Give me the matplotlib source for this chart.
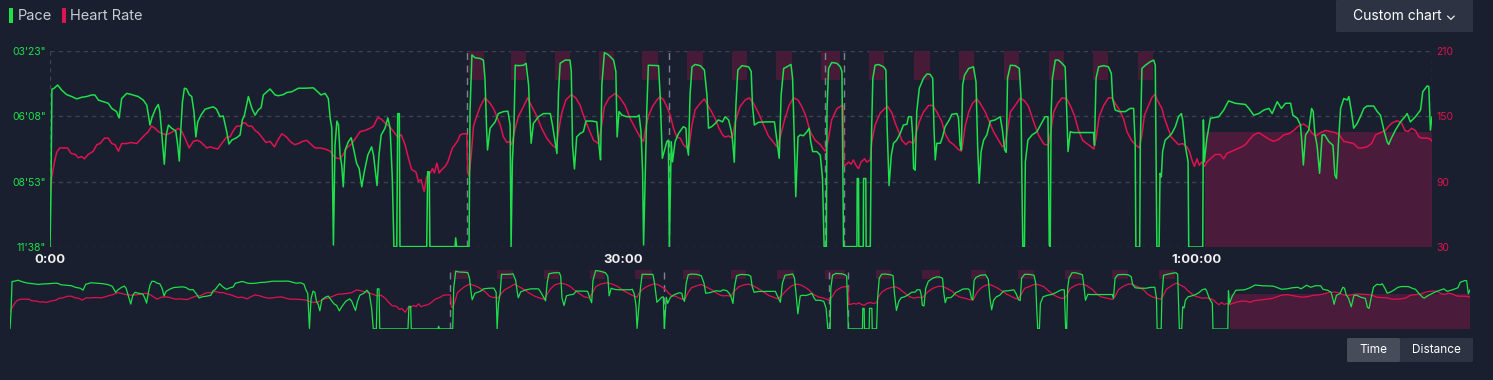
import matplotlib
matplotlib.use("Agg")
import matplotlib.pyplot as plt
from matplotlib.patches import FancyBboxPatch, Rectangle

# ---- data (time in seconds) ----
pace_t = [0, 3, 6, 13, 24, 37, 52, 68, 84, 99, 115, 131, 141, 152, 167, 183, 194, 209, 217, 225, 241, 256, 277, 293,
          304, 314, 321, 332, 340, 345, 353, 359, 365, 372, 382, 395, 401, 406, 411, 416, 422, 429, 437, 445, 452, 458,
          464, 474, 487, 503, 513, 523, 534, 544, 555, 562, 571, 586, 597, 604, 610,
          623, 634, 644, 654, 663, 670, 681, 691, 707, 717, 733, 743, 759, 780, 801, 827, 838, 851, 864, 874, 880, 885,
          890, 895, 901, 906, 911, 916, 921, 927, 937, 946, 953, 963, 971, 979, 987, 998, 1010, 1016, 1023, 1027, 1033,
          1040, 1052, 1061, 1068, 1075, 1080, 1089, 1092, 1097, 1099, 1183, 1186, 1191, 1193,
          1272, 1274, 1277, 1316, 1319, 1325, 1335, 1351, 1361, 1366, 1371, 1374, 1382, 1398, 1408, 1424, 1438, 1445,
          1448, 1452, 1457, 1461, 1471, 1487, 1495, 1503, 1508, 1511, 1518, 1534, 1550, 1571, 1578, 1586, 1592, 1597,
          1602, 1618, 1633, 1637, 1641, 1647, 1654, 1665, 1675, 1683, 1702, 1717, 1725, 1729, 1733, 1741, 1754, 1770,
          1777, 1781, 1787, 1796, 1811, 1827, 1843, 1850, 1856, 1861, 1864,
          1874, 1879, 1911, 1916, 1923, 1937, 1942, 1945, 1951, 1955, 1963, 1974, 1989, 1997, 2000, 2005, 2010, 2016,
          2026, 2042, 2055, 2063, 2068, 2078, 2089, 2099, 2112, 2120, 2131, 2139, 2143, 2149, 2154, 2160, 2173, 2194,
          2202, 2206, 2212, 2225, 2251, 2275, 2283, 2290, 2296, 2304, 2314, 2327, 2332, 2337, 2342, 2349, 2356, 2366,
          2377, 2384, 2389, 2395, 2408, 2419, 2426, 2431, 2438, 2440, 2445, 2455, 2471, 2482, 2487, 2492,
          2534, 2535, 2539, 2540, 2554, 2555, 2562, 2563, 2576, 2579, 2584, 2591, 2602, 2618, 2625, 2629, 2635, 2642,
          2649, 2659, 2670, 2680, 2691, 2696, 2705, 2709, 2712, 2717, 2722, 2730, 2743, 2754, 2764, 2772, 2776, 2780,
          2785, 2796, 2803, 2811, 2824, 2832, 2848, 2853, 2858, 2862, 2866, 2872, 2885, 2900, 2908, 2913, 2918, 2924,
          2932, 2942, 2953, 2968, 2984, 2991, 2998, 3003, 3007, 3016, 3031, 3044, 3049, 3052, 3055, 3060, 3063, 3071,
          3084, 3099, 3125,
          3134, 3138, 3141, 3144, 3148, 3157, 3167, 3178, 3188, 3193, 3197, 3204, 3214, 3230, 3262, 3277, 3280, 3285,
          3293, 3309, 3324, 3333, 3337, 3345, 3358, 3377, 3392, 3403, 3408, 3410, 3422, 3424, 3429, 3440, 3455, 3466,
          3471, 3476, 3483, 3486, 3490, 3494, 3502, 3513, 3523, 3534, 3544, 3553, 3557, 3565, 3574, 3576, 3620, 3622,
          3625, 3633, 3644, 3670, 3686, 3701, 3722, 3754,
          3765, 3780, 3796, 3812, 3828, 3838, 3854, 3867, 3880, 3896, 3903, 3917, 3927, 3932, 3936, 3943, 3953, 3962,
          3967, 3972, 3979, 3987, 3995, 4003, 4016, 4029, 4035, 4040, 4047, 4053, 4063, 4074, 4079, 4087, 4094, 4105,
          4115, 4126, 4136, 4157, 4168, 4178, 4189, 4199, 4204, 4212, 4225, 4241, 4255, 4262, 4272, 4288, 4304, 4311,
          4325, 4330, 4335, 4340]
pace_v = [698, 560, 300, 297, 289, 302, 313, 318, 324, 320, 318, 314, 314, 327, 331, 335, 348, 356, 372, 323, 310, 313,
          318, 327, 340, 390, 369, 348, 338, 356, 432, 489, 415, 390, 398, 405, 441, 481, 398, 331, 297, 299, 313, 318,
          356, 420, 382, 365, 350, 346, 344, 350, 369, 367, 407, 438, 428, 422, 415, 377, 367,
          318, 348, 365, 352, 346, 314, 306, 299, 314, 316, 313, 308, 306, 297, 297, 296, 304, 314, 310, 323, 373, 398,
          693, 441, 380, 390, 466, 491, 546, 453, 432, 422, 449, 487, 500, 546, 508, 466, 445, 466, 516, 543, 466,
          415, 398, 372, 398, 525, 697, 697, 361, 361, 697, 697, 508, 508, 697,
          697, 675, 697, 697, 356, 213, 220, 222, 226, 272, 398, 453, 398, 382, 361, 356, 355, 390,
          697, 483, 398, 239, 240, 239, 234, 289, 390, 436, 386, 369, 361, 361, 390, 432, 462, 306,
          234, 226, 226, 255, 441, 501, 420, 411, 407, 380, 380, 382, 449, 478, 289, 207, 213, 226,
          255, 420, 356, 365, 369, 369, 369, 365, 407, 508, 693,
          356, 239, 240, 314, 474, 432, 428, 697, 432, 483, 432, 411, 394, 398, 441, 466, 314, 243,
          237, 240, 251, 314, 398, 394, 386, 377, 382, 369, 377, 403, 424, 484, 340, 251, 240, 243,
          255, 340, 390, 383, 382, 382, 432, 474, 314, 247, 243, 237, 272, 415, 571, 420, 415, 417,
          407, 398, 432, 457, 457, 466, 525, 697, 697, 356, 247, 232, 234, 243, 255, 697,
          697, 525, 525, 697, 697, 525, 525, 697, 697, 441, 272, 239, 237, 243, 251, 398, 543, 466,
          436, 428, 411, 390, 388, 369, 369, 415, 500, 504, 356, 297, 272, 261, 262, 272, 398, 478,
          436, 436, 420, 394, 377, 363, 361, 373, 441, 453, 289, 264, 247, 243, 281, 441, 537, 457,
          428, 415, 380, 377, 369, 403, 453, 459, 272, 239, 240, 247, 314, 525, 698, 698, 483, 428,
          415, 407, 369,
          369, 693, 698, 356, 272, 226, 226, 234, 243, 356, 457, 407, 409, 409, 409, 409, 441, 272,
          243, 240, 243, 260, 323, 352, 356, 356, 348, 348, 441, 698, 698, 441, 247, 239, 230, 226,
          239, 698, 698, 512, 521, 457, 428, 420, 411, 394, 369, 361, 377, 441, 483, 698, 698, 377,
          483, 424, 373, 369, 352, 329, 335, 338,
          348, 365, 361, 352, 348, 361, 331, 348, 335, 335, 365, 373, 390, 441, 491, 415, 403, 348,
          356, 411, 441, 512, 415, 415, 432, 441, 516, 525, 424, 348, 323, 327, 318, 356, 398, 386,
          369, 348, 342, 342, 356, 365, 403, 432, 439, 424, 403, 382, 369, 361, 382, 369, 352, 306,
          291, 293, 403, 369]

hr_t = [0, 5, 14, 21, 31, 42, 55, 66, 79, 89, 99, 108, 120, 136, 147, 157, 171, 183, 194, 204, 215, 225, 241, 254,
        272, 288, 298, 309, 319, 330, 340, 353, 366, 380, 393, 403, 414, 424, 437, 450, 461, 471, 482, 492, 503, 513,
        527, 539, 555, 565, 576, 586, 597, 607,
        613, 623, 634, 644, 654, 665, 678, 691, 705, 715, 728, 743, 754, 768, 780, 793, 806, 817, 832, 848, 864, 880,
        895, 911, 921, 932, 948, 960, 974, 989, 1005, 1016, 1026, 1031, 1042, 1052, 1065, 1079, 1092, 1103, 1115,
        1126, 1136, 1149, 1157, 1165, 1175, 1183, 1194, 1201, 1207, 1215, 1222, 1230, 1241,
        1249, 1257, 1264, 1272, 1281, 1288, 1298, 1309, 1312, 1316, 1323, 1330, 1340, 1351, 1366, 1382, 1393, 1403,
        1414, 1424, 1435, 1445, 1450, 1461, 1471, 1487, 1500, 1513, 1529, 1544, 1560, 1576, 1588, 1597, 1607, 1620,
        1637, 1651, 1665, 1675, 1691, 1707, 1722, 1731, 1741, 1756, 1775, 1790, 1806, 1822, 1838, 1853, 1864,
        1869, 1879, 1892, 1906, 1916, 1927, 1937, 1948, 1958, 1968, 1979, 1989, 2000, 2007, 2016, 2026, 2042, 2055,
        2068, 2078, 2089, 2101, 2112, 2120, 2131, 2143, 2152, 2167, 2183, 2196, 2209, 2225, 2241, 2256, 2272, 2283,
        2293, 2307, 2321, 2335, 2349, 2361, 2374, 2387, 2403, 2419, 2434, 2443, 2455, 2471, 2487, 2491, 2493,
        2497, 2508, 2516, 2523, 2531, 2539, 2547, 2558, 2565, 2576, 2581, 2591, 2607, 2621, 2631, 2644, 2654, 2665,
        2675, 2688, 2698, 2712, 2719, 2730, 2743, 2759, 2772, 2785, 2801, 2811, 2824, 2838, 2851, 2862, 2866, 2874,
        2885, 2897, 2911, 2921, 2937, 2950, 2963, 2979, 2991, 2998, 3005, 3016, 3031, 3047, 3061, 3073, 3089, 3104,
        3120,
        3125, 3136, 3141, 3152, 3165, 3178, 3193, 3204, 3218, 3230, 3243, 3256, 3270, 3278, 3285, 3295, 3309, 3324,
        3335, 3345, 3358, 3371, 3382, 3396, 3408, 3421, 3429, 3437, 3450, 3460, 3469, 3481, 3492, 3500, 3511, 3521,
        3534, 3544, 3557, 3570, 3578, 3586, 3594, 3602, 3609, 3617, 3626, 3633, 3644, 3659, 3675, 3686, 3696, 3712,
        3727, 3743,
        3754, 3765, 3780, 3796, 3812, 3828, 3843, 3859, 3875, 3890, 3906, 3920, 3937, 3951, 3964, 3976, 3990, 4005,
        4021, 4037, 4049, 4063, 4079, 4094, 4108, 4121, 4136, 4150, 4163, 4178, 4194, 4204, 4215, 4231, 4244, 4255,
        4265, 4276, 4288, 4299, 4309, 4325, 4335, 4340]
hr_v = [81, 93, 108, 117, 121, 121, 121, 116, 115, 112, 113, 111, 115, 118, 124, 125, 130, 130, 125, 124, 118, 125,
        125, 126, 125, 130, 133, 136, 141, 139, 136, 134, 133, 135, 137, 139, 136, 130, 121, 127, 128, 127, 124, 121,
        122, 121, 120, 125, 131, 131, 137, 141, 141, 144,
        144, 141, 141, 137, 135, 131, 126, 127, 122, 128, 134, 131, 127, 124, 125, 127, 128, 125, 121, 121, 120, 118,
        112, 111, 115, 121, 125, 130, 136, 137, 139, 141, 147, 149, 147, 144, 141, 136, 131, 133, 124,
        111, 101, 99, 90, 92, 81, 95, 98, 102, 98, 107, 98, 101, 104,
        108, 115, 121, 124, 128, 133, 134, 134, 98, 95, 115, 141, 150, 159, 167, 162, 157, 150,
        142, 131, 126, 127, 124, 139, 150, 159, 167, 159, 150, 139, 130, 124, 121, 136, 153, 165,
        170, 167, 160, 151, 139, 128, 125, 139, 159, 167, 171, 167, 160, 148, 139, 131, 127,
        137, 150, 159, 165, 168, 165, 159, 151, 139, 131, 130, 124, 121, 122, 142, 156, 162, 166,
        159, 154, 148, 139, 133, 131, 132, 130, 145, 159, 165, 167, 162, 153, 142, 132, 126, 122,
        131, 147, 160, 167, 165, 159, 150, 136, 128, 124, 118, 127, 147, 157, 160, 160, 105,
        105, 108, 106, 110, 105, 102, 108, 111, 108, 110, 127, 142, 153, 157, 159, 153, 144, 136,
        128, 124, 127, 125, 133, 145, 154, 160, 160, 154, 145, 134, 127, 124, 120, 118, 124, 141,
        154, 162, 166, 162, 154, 145, 136, 128, 122, 124, 134, 154, 160, 167, 164, 159, 145, 133,
        125,
        124, 124, 133, 154, 162, 167, 166, 160, 150, 137, 128, 125, 122, 120, 130, 150, 160, 167,
        167, 162, 156, 148, 136, 128, 124, 121, 133, 151, 160, 167, 170, 163, 157, 148, 139, 131,
        127, 124, 125, 122, 118, 110, 104, 111, 105, 108, 104, 108, 111, 115, 115, 111, 116, 118,
        120, 122,
        124, 128, 133, 135, 132, 129, 127, 129, 133, 134, 137, 141, 143, 140, 134, 132, 135, 137,
        136, 135, 133, 127, 126, 125, 121, 121, 122, 125, 133, 135, 137, 141, 144, 146, 144, 137,
        136, 139, 137, 131, 130, 130, 129, 127]

# interval blocks (start, end) in seconds and lap markers
block_start = [1316, 1448, 1586, 1725, 1858, 2000, 2143, 2280, 2422, 2573, 2712, 2856, 2996, 3136, 3275, 3417]
block_end = [1364, 1495, 1633, 1770, 1909, 2050, 2188, 2330, 2482, 2620, 2764, 2902, 3044, 3185, 3324, 3464]
lap_marks = [1309, 1945, 2434, 2492]
zone_start, zone_end, zone_hr = 3626, 4340, 136

pace_ticks = [203, 368, 533, 698]
pace_labels = ["03'23\"", "06'08\"", "08'53\"", "11'38\""]
hr_ticks = [30, 90, 150, 210]
time_ticks = [0, 1800, 3600]
time_labels = ["0:00", "30:00", "1:00:00"]

BG = "#1a1f2f"
GREEN = "#1ee04a"
RED = "#e0124f"
SHADE = "#4a1b3a"
GRID = "#3c4253"

W, H = 1493, 380
fig = plt.figure(figsize=(W / 100, H / 100), dpi=100, facecolor=BG)
plt.rcParams['font.family'] = ['Inter', 'DejaVu Sans']


def box(x0, y0, x1, y1):
    # pixel box (top-left origin) -> figure rect
    return [x0 / W, 1 - y1 / H, (x1 - x0) / W, (y1 - y0) / H]


def draw_panel(rect, lw, main):
    ax_hr = fig.add_axes(rect)
    ax_hr.set_facecolor(BG)
    ax_p = ax_hr.twinx()
    for a in (ax_hr, ax_p):
        for s in a.spines.values():
            s.set_visible(False)
        a.tick_params(length=0)
    ax_hr.set_xlim(0, pace_t[-1])
    ax_hr.set_ylim(30, 210)
    ax_p.set_ylim(698, 203)

    # shaded intervals and zone
    for s, e in zip(block_start, block_end):
        ax_hr.axvspan(s, e, ymin=0.85, ymax=1, color=SHADE, lw=0, alpha=0.9)
    ax_hr.fill_between([zone_start, zone_end], 30, zone_hr, color=SHADE, lw=0)
    for m in lap_marks:
        ax_hr.axvline(m, color="#7d8290", lw=1, ls=(0, (5, 4)))

    if main:
        for v in hr_ticks:
            ax_hr.axhline(v, color=GRID, lw=1, ls=(0, (3, 3)), zorder=0)
        ax_hr.axvline(0, color=GRID, lw=1, ls=(0, (3, 3)))
        ax_hr.axvline(pace_t[-1], color=GRID, lw=1, ls=(0, (3, 3)))
    else:
        ax_hr.axhline(30, color=GRID, lw=0.8, ls=(0, (2, 2)), zorder=0)

    ax_hr.plot(hr_t, hr_v, color=RED, lw=lw)
    ax_p.plot(pace_t, pace_v, color=GREEN, lw=lw)

    if main:
        ax_hr.set_xticks(time_ticks)
        ax_hr.set_xticklabels(time_labels, color="#f0f0f0", fontsize=9.5, fontweight="bold")
        ax_hr.tick_params(axis="x", pad=5)
        ax_hr.yaxis.tick_right()
        ax_hr.set_yticks(hr_ticks)
        ax_hr.set_yticklabels([str(v) for v in hr_ticks], color=RED, fontsize=7.5)
        ax_hr.tick_params(axis="y", pad=3)
        ax_p.yaxis.tick_left()
        ax_p.set_yticks(pace_ticks)
        ax_p.set_yticklabels(pace_labels, color=GREEN, fontsize=7.5)
        ax_p.tick_params(axis="y", pad=3)
    else:
        ax_hr.set_xticks([])
        ax_hr.set_yticks([])
        ax_p.set_yticks([])
    return ax_hr, ax_p


draw_panel(box(50, 51, 1432, 247), 1.1, True)
draw_panel(box(10, 270, 1470, 329), 0.9, False)

# legend
fig.add_artist(Rectangle((box(9, 8, 13, 23)[0], box(9, 8, 13, 23)[1]), 4 / W, 15 / H,
                         transform=fig.transFigure, color=GREEN, lw=0))
fig.text(18 / W, 1 - 16 / H, "Pace", color="#c9ccd4", fontsize=10.5, va="center")
fig.add_artist(Rectangle((box(62, 8, 66, 23)[0], box(62, 8, 66, 23)[1]), 4 / W, 15 / H,
                         transform=fig.transFigure, color=RED, lw=0))
fig.text(70 / W, 1 - 16 / H, "Heart Rate", color="#c9ccd4", fontsize=10.5, va="center")

# buttons
def button(x0, y0, x1, y1, label, face, fs=10):
    r = box(x0, y0, x1, y1)
    fig.add_artist(FancyBboxPatch((r[0], r[1]), r[2], r[3], boxstyle="round,pad=0,rounding_size=0.002",
                                  transform=fig.transFigure, facecolor=face, edgecolor="none"))
    fig.text((x0 + x1) / 2 / W, 1 - (y0 + y1) / 2 / H, label, color="white", fontsize=fs,
             ha="center", va="center")


button(1336, 0, 1473, 32, "Custom chart \u2304", "#2d3343", fs=10)
button(1347, 338, 1400, 362, "Time", "#474c5a", fs=8.5)
button(1400, 338, 1473, 362, "Distance", "#2d3343", fs=8.5)

fig.savefig("out.png", dpi=100, facecolor=BG)
